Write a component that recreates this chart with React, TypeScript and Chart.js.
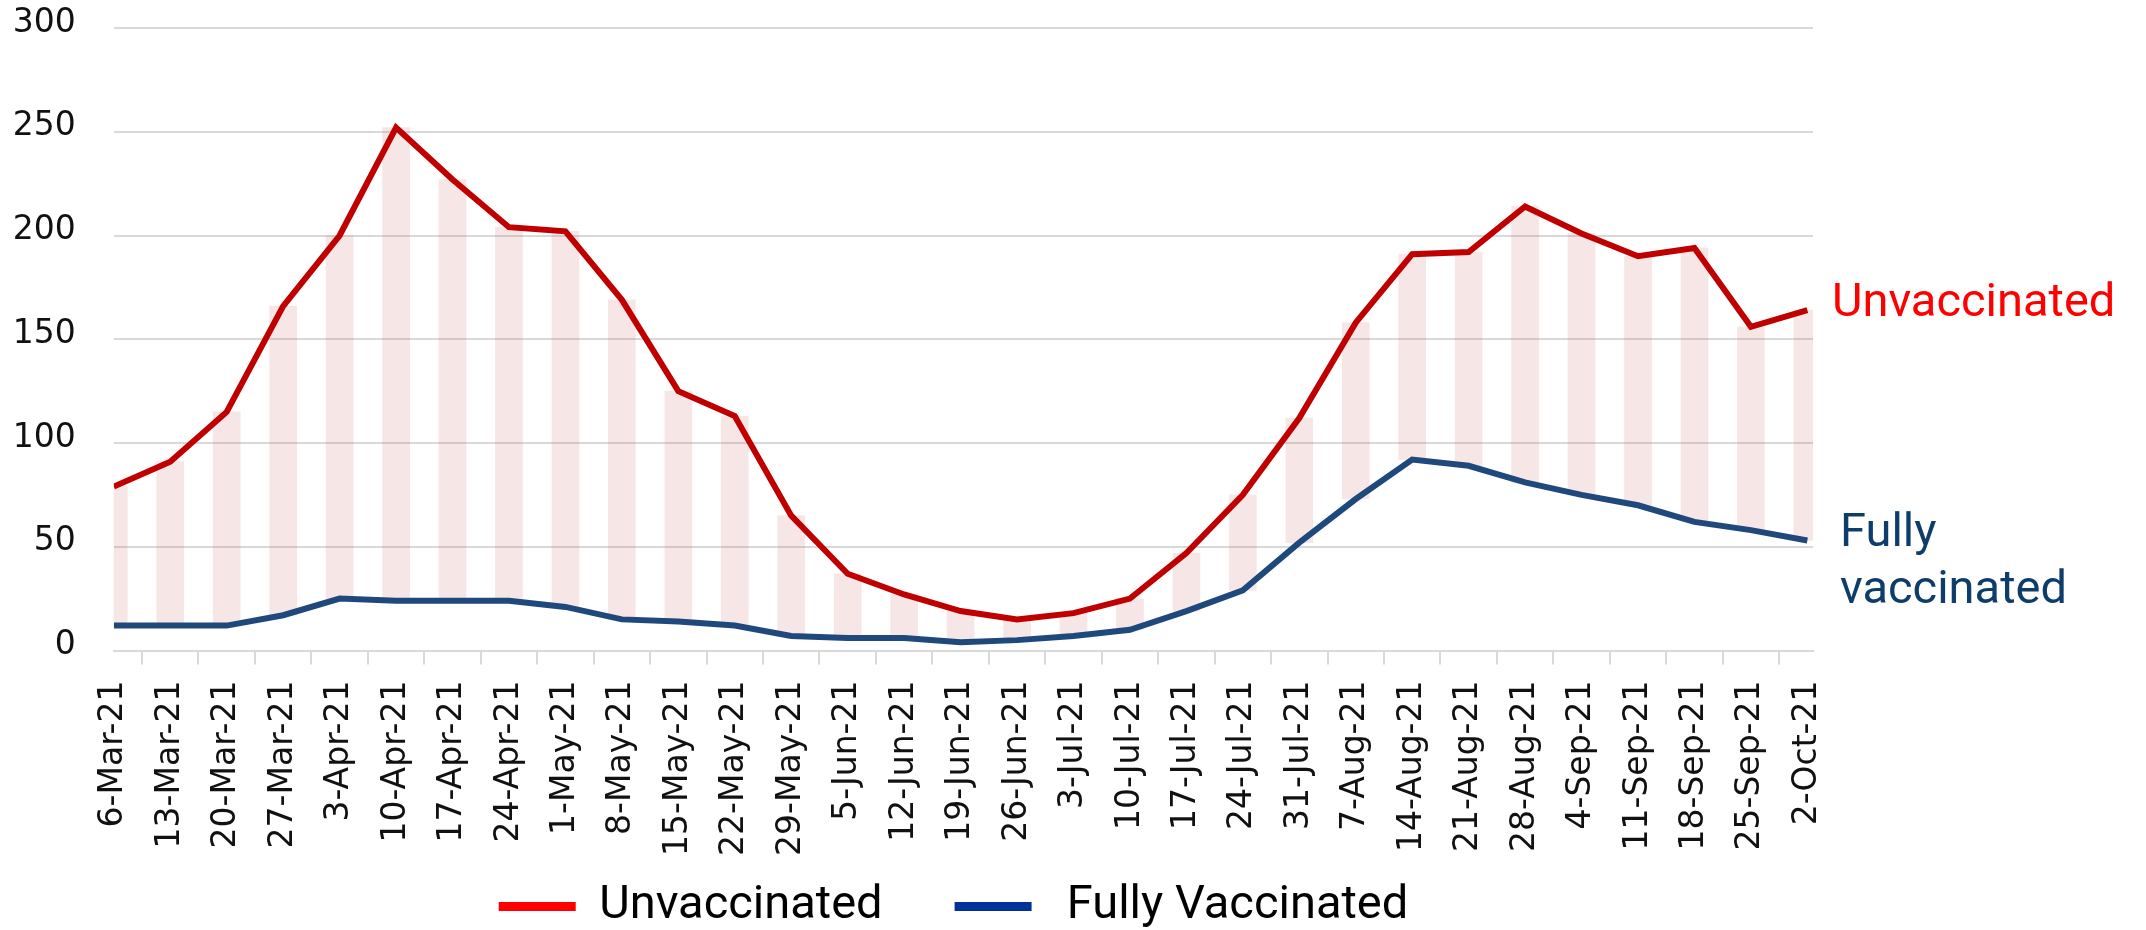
import React, { useEffect, useRef } from 'react';
import { Chart, registerables } from 'chart.js';

Chart.register(...registerables);

const categories = [
  '6-Mar-21', '13-Mar-21', '20-Mar-21', '27-Mar-21', '3-Apr-21', '10-Apr-21', '17-Apr-21', '24-Apr-21',
  '1-May-21', '8-May-21', '15-May-21', '22-May-21', '29-May-21', '5-Jun-21', '12-Jun-21', '19-Jun-21',
  '26-Jun-21', '3-Jul-21', '10-Jul-21', '17-Jul-21', '24-Jul-21', '31-Jul-21', '7-Aug-21', '14-Aug-21',
  '21-Aug-21', '28-Aug-21', '4-Sep-21', '11-Sep-21', '18-Sep-21', '25-Sep-21', '2-Oct-21',
];

const unvaccinated = [
  79, 91, 115, 166, 200, 252, 227, 204, 202, 169,
  125, 113, 65, 37, 27, 19, 15, 18, 25, 47,
  75, 112, 158, 191, 192, 214, 201, 190, 194, 156,
  164,
];

const fullyVaccinated = [
  12, 12, 12, 17, 25, 24, 24, 24, 21, 15,
  14, 12, 7, 6, 6, 4, 5, 7, 10, 19,
  29, 52, 73, 92, 89, 81, 75, 70, 62, 58,
  53,
];

const seriesNames = ['Unvaccinated', 'Fully Vaccinated'];
const sideLabels = ['Unvaccinated', 'Fully', 'vaccinated'];
const yMin = 0;
const yMax = 300;
const yStep = 50;

const RED_LINE = '#C00000';
const BLUE_LINE = '#1F497D';
const RED_LEGEND = '#FF0000';
const BLUE_LEGEND = '#003399';
const GRID = '#D9D9D9';

export default function App() {
  const ref = useRef<HTMLCanvasElement>(null);

  useEffect(() => {
    const canvas = ref.current;
    if (!canvas) return;

    const sidePlugin = {
      id: 'sideLabels',
      afterLayout(chart: any) {
        const lg = chart.legend;
        if (lg) {
          const dx = 953.5 - (lg.left + lg.right) / 2;
          lg.left += dx;
          lg.right += dx;
          lg.top = 883 - 72;
          lg.bottom = 930;
        }
      },
      afterDraw(chart: any) {
        const ctx = chart.ctx;
        const r = chart.chartArea.right;
        ctx.save();
        ctx.font = '47px Roboto';
        ctx.textAlign = 'left';
        ctx.textBaseline = 'alphabetic';
        ctx.fillStyle = '#FF0000';
        ctx.fillText(sideLabels[0], r + 19, 316);
        ctx.fillStyle = '#0E3D6B';
        ctx.fillText(sideLabels[1], r + 27, 546);
        ctx.fillText(sideLabels[2], r + 27, 603);
        ctx.restore();
      },
    };

    const chart = new Chart(canvas, {
      type: 'bar',
      data: {
        datasets: [
          {
            type: 'bar',
            label: 'gap',
            data: categories.map((_, i) => ({ x: i, y: [fullyVaccinated[i], unvaccinated[i]] })) as any,
            backgroundColor: 'rgba(190,60,60,0.13)',
            borderWidth: 0,
            barThickness: 27,
            order: 3,
          } as any,
          {
            type: 'line',
            label: seriesNames[0],
            data: categories.map((_, i) => ({ x: i, y: unvaccinated[i] })),
            borderColor: RED_LINE,
            backgroundColor: RED_LINE,
            borderWidth: 6,
            pointRadius: 0,
            tension: 0,
            fill: false,
            order: 1,
          },
          {
            type: 'line',
            label: seriesNames[1],
            data: categories.map((_, i) => ({ x: i, y: fullyVaccinated[i] })),
            borderColor: BLUE_LINE,
            backgroundColor: BLUE_LINE,
            borderWidth: 6,
            pointRadius: 0,
            tension: 0,
            fill: false,
            order: 2,
          },
        ],
      },
      options: {
        responsive: false,
        animation: false,
        layout: { padding: { top: 28, right: 333, left: 0, bottom: 0 } },
        plugins: {
          tooltip: { enabled: false },
          legend: {
            position: 'bottom',
            maxHeight: 58,
            labels: {
              boxWidth: 77,
              boxHeight: 9,
              padding: 72,
              color: '#000',
              font: { family: 'Roboto', size: 47 },
              generateLabels: () => [
                { text: seriesNames[0], fillStyle: RED_LEGEND, strokeStyle: RED_LEGEND, lineWidth: 0, hidden: false, datasetIndex: 1, fontColor: '#000' },
                { text: ' ' + seriesNames[1], fillStyle: BLUE_LEGEND, strokeStyle: BLUE_LEGEND, lineWidth: 0, hidden: false, datasetIndex: 2, fontColor: '#000' },
              ] as any,
            },
          },
        },
        scales: {
          x: {
            type: 'linear',
            min: 0,
            max: 30.1,
            offset: false,
            afterBuildTicks: (scale: any) => {
              scale.ticks = categories.map((_, i) => ({ value: i }));
            },
            afterFit: (scale: any) => {
              scale.height = 221.5;
              scale.paddingLeft = 0;
              scale.paddingRight = 0;
            },
            ticks: {
              autoSkip: false,
              minRotation: 90,
              maxRotation: 90,
              padding: 16,
              color: '#111',
              font: { family: 'DejaVu Sans', size: 33 },
              callback: (v: any) => categories[Math.round(Number(v))] ?? '',
            },
            grid: {
              drawOnChartArea: false,
              drawTicks: true,
              tickLength: 14,
              tickColor: GRID,
              lineWidth: 2,
              color: GRID,
            },
            border: { display: true, color: GRID, width: 2 },
          },
          y: {
            min: yMin,
            max: yMax,
            afterFit: (scale: any) => {
              scale.width = 113.8;
              scale.paddingTop = 0;
              scale.paddingBottom = 0;
            },
            ticks: {
              stepSize: yStep,
              padding: 38,
              labelOffset: -5,
              color: '#111',
              font: { family: 'DejaVu Sans', size: 33 },
            },
            grid: { color: GRID, lineWidth: 2, drawTicks: false },
            border: { display: false },
          },
        },
      } as any,
      plugins: [sidePlugin],
    });

    return () => chart.destroy();
  }, []);

  return (
    <div style={{ position: 'absolute', left: 0, top: 0, width: 2146, height: 930, background: '#fff' }}>
      <canvas ref={ref} width={2146} height={930} style={{ width: 2146, height: 930, display: 'block' }} />
    </div>
  );
}
